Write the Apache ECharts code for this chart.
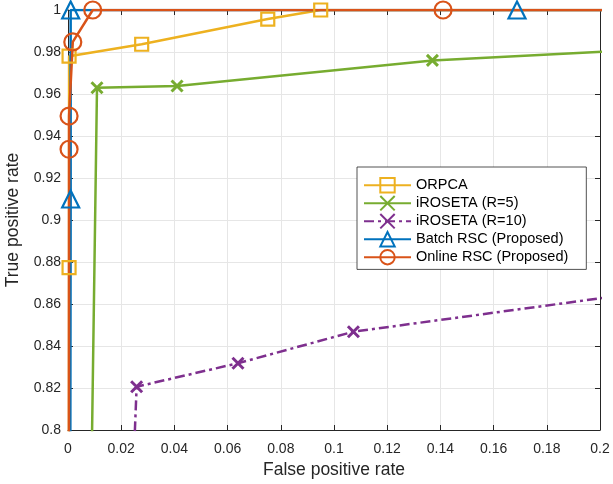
<!DOCTYPE html>
<html><head><meta charset="utf-8">
<script src="https://cdn.jsdelivr.net/npm/echarts@6/dist/echarts.min.js"></script>
<style>html,body{margin:0;padding:0;background:#fff}#c{width:613px;height:484px}</style>
</head><body><div id="c"></div>
<script>
// Data (ROC curves)
const seriesNames = ['ORPCA', 'iROSETA (R=5)', 'iROSETA (R=10)', 'Batch RSC (Proposed)', 'Online RSC (Proposed)'];
const orpcaX = [0, 0.0004, 0.0004, 0.0277, 0.0751, 0.095, 1];
const orpcaY = [0, 0.8773, 0.978, 0.9837, 0.9957, 1, 1];
const iroseta5X = [0, 0.0109, 0.041, 0.137, 0.22];
const iroseta5Y = [0, 0.963, 0.9638, 0.976, 0.9813];
const iroseta10X = [0, 0.0258, 0.0639, 0.1073, 1];
const iroseta10Y = [0, 0.8206, 0.8318, 0.8468, 1];
const batchX = [0, 0.001, 0.001, 0.1688, 1];
const batchY = [0, 0.91, 1, 1, 1];
const onlineX = [0, 0.0004, 0.0004, 0.0018, 0.0093, 0.141, 1];
const onlineY = [0, 0.9337, 0.9495, 0.9848, 1, 1, 1];
const xTicks = [0, 0.02, 0.04, 0.06, 0.08, 0.1, 0.12, 0.14, 0.16, 0.18, 0.2];
const yTicks = [0.8, 0.82, 0.84, 0.86, 0.88, 0.9, 0.92, 0.94, 0.96, 0.98, 1];

const FONT = "'Liberation Sans', Arial, Helvetica, sans-serif";
const AX = '#262626';
const pair = (xs, ys) => xs.map((x, i) => [x, ys[i]]);
const crossPath = 'path://M0,0L10,10M10,0L0,10';

function mk(name, xs, ys, color, symbol, size, dash, bw) {
  return {
    name: name, type: 'line', data: pair(xs, ys),
    xAxisIndex: 0, yAxisIndex: 0,
    symbol: symbol, symbolSize: size, showAllSymbol: true,
    clip: true, animation: false,
    lineStyle: { color: color, width: 2.5, type: dash || 'solid', cap: 'butt' },
    itemStyle: { color: 'transparent', borderColor: color, borderWidth: bw || 2.2 },
    emphasis: { disabled: true }
  };
}

const chart = echarts.init(document.getElementById('c'), null, { renderer: 'canvas' });
const commonX = { type: 'value', min: xTicks[0], max: xTicks[xTicks.length - 1], interval: 0.02 };
const commonY = { type: 'value', min: yTicks[0], max: yTicks[yTicks.length - 1], interval: 0.02 };
chart.setOption({
  backgroundColor: '#fff',
  animation: false,
  textStyle: { fontFamily: FONT },
  grid: { left: 68, right: 13, top: 10, bottom: 54, containLabel: false, outerBoundsMode: 'none' },
  legend: {
    orient: 'vertical', left: 357, top: 167,
    padding: [10, 18, 4, 6],
    itemWidth: 47, itemHeight: 18, itemGap: 1.6,
    backgroundColor: '#fff', borderColor: '#262626', borderWidth: 0.8,
    textStyle: { fontFamily: FONT, fontSize: 14.5, color: '#000' },
    data: seriesNames
  },
  xAxis: [
    Object.assign({}, commonX, {
      position: 'bottom',
      name: 'False positive rate', nameLocation: 'middle', nameGap: 30,
      nameTextStyle: { fontFamily: FONT, fontSize: 17.5, color: AX },
      axisLine: { show: true, onZero: false, lineStyle: { color: AX, width: 1 } },
      axisTick: { show: true, inside: true, length: 5, lineStyle: { color: AX } },
      axisLabel: { fontFamily: FONT, fontSize: 14, color: AX, margin: 12,
        formatter: v => String(+v.toFixed(2)) },
      splitLine: { show: true, lineStyle: { color: '#e6e6e6', width: 1 } }
    }),
    Object.assign({}, commonX, {
      position: 'top',
      axisLine: { show: true, onZero: false, lineStyle: { color: AX, width: 1 } },
      axisTick: { show: true, inside: true, length: 5, lineStyle: { color: AX } },
      axisLabel: { show: false }, splitLine: { show: false }
    })
  ],
  yAxis: [
    Object.assign({}, commonY, {
      position: 'left',
      name: 'True positive rate', nameLocation: 'middle', nameGap: 46,
      nameTextStyle: { fontFamily: FONT, fontSize: 17.5, color: AX },
      axisLine: { show: true, onZero: false, lineStyle: { color: AX, width: 1 } },
      axisTick: { show: true, inside: true, length: 5, lineStyle: { color: AX } },
      axisLabel: { fontFamily: FONT, fontSize: 14, color: AX, margin: 7,
        formatter: v => String(+v.toFixed(2)) },
      splitLine: { show: true, lineStyle: { color: '#e6e6e6', width: 1 } }
    }),
    Object.assign({}, commonY, {
      position: 'right',
      axisLine: { show: true, onZero: false, lineStyle: { color: AX, width: 1 } },
      axisTick: { show: true, inside: true, length: 5, lineStyle: { color: AX } },
      axisLabel: { show: false }, splitLine: { show: false }
    })
  ],
  series: [
    mk(seriesNames[0], orpcaX, orpcaY, '#EDB120', 'rect', 13),
    mk(seriesNames[1], iroseta5X, iroseta5Y, '#77AC30', crossPath, 11, 'solid', 3),
    mk(seriesNames[2], iroseta10X, iroseta10Y, '#7E2F8E', crossPath, 11, [10, 4, 3, 4], 3),
    mk(seriesNames[3], batchX, batchY, '#0072BD', 'triangle', 17),
    mk(seriesNames[4], onlineX, onlineY, '#D95319', 'circle', 17)
  ]
});
</script>
</body></html>
